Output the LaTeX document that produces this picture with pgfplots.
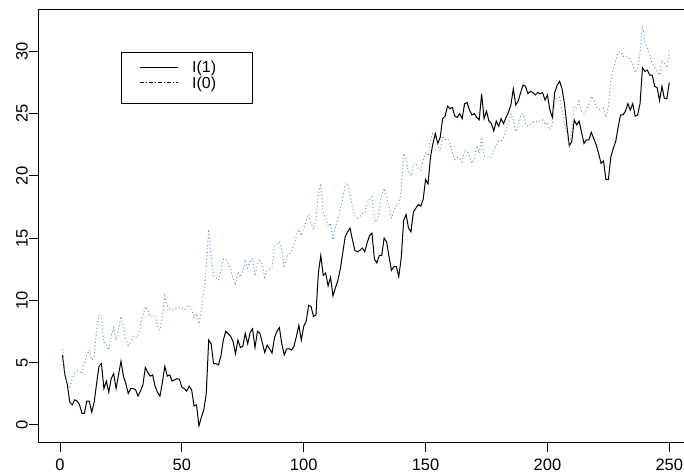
\documentclass[border=0pt]{standalone}
\usepackage{fontspec}
\setmainfont{Liberation Sans}
\usepackage{pgfplots}
\pgfplotsset{compat=1.18}
\usepackage{pgfplotstable}
\definecolor{dotblue}{RGB}{95,150,215}
\pgfplotstableread{
t i1 i0
1 5.6 6.1
2 4.0 4.1
3 3.2 3.4
4 1.8 2.9
5 1.6 3.7
6 2.0 4.1
7 1.9 4.3
8 1.6 4.3
9 0.9 4.1
10 0.9 4.9
11 1.9 5.6
12 1.9 6.0
13 1.0 5.2
14 1.8 5.5
15 3.3 7.6
16 4.7 8.8
17 4.9 8.5
18 2.9 6.6
19 3.5 6.5
20 2.6 6.0
21 3.7 7.2
22 4.1 7.8
23 2.9 6.8
24 4.0 7.6
25 5.1 8.7
26 3.9 7.9
27 3.3 6.8
28 2.5 6.4
29 2.9 6.6
30 2.9 7.1
31 2.8 7.0
32 2.3 7.1
33 2.7 8.0
34 3.2 8.8
35 4.6 9.5
36 4.2 9.2
37 3.9 8.7
38 4.0 8.7
39 3.1 8.7
40 2.6 7.9
41 2.3 7.6
42 3.4 8.6
43 4.7 10.35
44 3.9 9.6
45 4.0 9.3
46 3.5 9.2
47 3.6 9.3
48 3.7 9.35
49 3.65 9.4
50 3.0 9.3
51 2.9 9.2
52 2.7 9.5
53 3.1 9.6
54 2.8 9.35
55 1.5 8.55
56 1.6 8.95
57 -0.1 8.1
58 0.6 9.2
59 1.2 10.8
60 2.5 12.5
61 6.8 15.7
62 6.5 13.5
63 4.9 12.0
64 4.9 11.8
65 4.8 11.6
66 5.5 12.4
67 6.8 13.3
68 7.5 13.3
69 7.3 13.0
70 7.1 12.4
71 6.7 11.8
72 5.7 11.2
73 6.8 12.3
74 6.2 11.85
75 6.3 12.4
76 7.35 13.1
77 6.5 12.6
78 7.4 13.1
79 7.7 13.4
80 6.2 11.95
81 7.5 12.9
82 7.35 13.2
83 6.6 12.76
84 5.8 11.85
85 6.4 12.4
86 6.1 12.5
87 5.75 12.6
88 7.0 14.3
89 7.5 14.5
90 7.8 14.7
91 6.5 14.0
92 5.6 12.6
93 6.1 13.5
94 6.1 13.7
95 6.0 13.9
96 6.3 14.5
97 7.1 15.2
98 8.0 15.7
99 6.8 15.2
100 7.9 15.8
101 8.3 16.4
102 9.6 16.9
103 9.5 16.2
104 8.7 15.7
105 8.8 16.5
106 12.2 18.5
107 13.6 19.4
108 12.0 17.0
109 12.2 16.6
110 11.15 15.9
111 11.85 16.2
112 10.35 14.85
113 11.0 15.9
114 11.6 16.5
115 12.5 17.3
116 13.8 18.2
117 15.1 19.3
118 15.5 19.4
119 15.8 18.5
120 14.85 17.5
121 14.0 16.8
122 13.9 16.6
123 14.0 16.7
124 14.2 17.0
125 13.9 17.0
126 14.6 17.8
127 15.2 18.1
128 15.4 18.33
129 13.3 16.45
130 13.0 16.3
131 13.6 17.3
132 13.6 18.5
133 15.0 19.0
134 14.7 18.3
135 13.5 17.5
136 12.4 16.6
137 12.7 17.2
138 12.7 17.6
139 11.9 17.7
140 13.4 18.9
141 16.4 21.8
142 16.9 21.4
143 15.8 20.2
144 15.5 20.0
145 17.1 20.96
146 17.4 21.0
147 17.7 20.6
148 17.56 20.47
149 18.1 21.2
150 19.7 21.9
151 19.35 21.6
152 21.5 22.9
153 22.6 23.5
154 23.4 23.2
155 22.6 22.4
156 23.1 22.0
157 24.6 23.2
158 24.8 22.9
159 25.6 23.0
160 25.4 22.6
161 25.5 21.8
162 24.8 21.3
163 24.7 21.5
164 25.0 21.4
165 24.6 21.1
166 25.8 22.1
167 25.9 22.05
168 25.3 21.6
169 24.9 21.0
170 25.0 21.4
171 24.7 22.4
172 24.5 21.8
173 26.6 23.1
174 24.6 21.6
175 25.2 21.5
176 24.4 21.5
177 24.2 21.5
178 23.6 22.0
179 24.4 22.4
180 24.0 22.8
181 24.6 22.8
182 24.2 23.1
183 24.7 23.7
184 25.1 24.2
185 25.7 25.0
186 27.0 24.5
187 25.7 23.55
188 26.0 24.0
189 26.7 24.8
190 27.3 25.0
191 27.2 24.2
192 26.6 24.0
193 26.8 24.1
194 26.7 24.3
195 26.5 24.3
196 26.7 24.4
197 26.6 24.36
198 26.7 24.5
199 26.1 24.1
200 26.5 24.3
201 25.3 23.7
202 24.7 24.1
203 26.7 26.0
204 27.3 26.3
205 27.6 26.3
206 27.0 25.3
207 25.8 24.2
208 24.0 23.3
209 22.4 22.3
210 22.8 23.6
211 24.5 25.5
212 24.1 25.4
213 24.4 26.0
214 23.5 25.2
215 22.6 25.0
216 22.9 25.3
217 22.9 25.7
218 23.5 26.4
219 23.0 26.1
220 22.5 25.6
221 21.8 25.36
222 21.0 25.4
223 21.2 25.4
224 19.7 24.7
225 19.7 25.6
226 21.5 27.6
227 22.2 28.6
228 22.75 29.3
229 23.9 29.9
230 24.9 30.0
231 24.9 29.6
232 25.2 29.6
233 25.8 29.6
234 25.3 29.3
235 25.8 29.0
236 24.8 28.3
237 24.9 28.6
238 25.8 29.9
239 28.7 32.1
240 28.4 30.8
241 28.5 30.3
242 28.1 29.7
243 28.1 29.0
244 27.2 28.7
245 27.1 28.4
246 26.05 28.1
247 27.2 29.3
248 26.2 29.0
249 26.2 28.7
250 27.5 30.1
}\datatable
\begin{document}
\begin{tikzpicture}
\useasboundingbox (0bp,0bp) rectangle (684bp,-475bp);
\clip (0bp,0bp) rectangle (684bp,-475bp);
\begin{axis}[
  at={(38.2bp,-442.7bp)}, anchor=south west,
  x=2.437bp, y=12.44bp,
  xmin=-8.96, xmax=259.96, ymin=-1.45, ymax=33.39,
  axis line style={line width=0.8bp},
  xtick={0,50,...,250}, ytick={0,5,...,30},
  tick align=outside, xtick pos=bottom, ytick pos=left,
  major tick length=9bp,
  tick style={black, line width=0.8bp},
  /pgf/number format/assume math mode=true,
  tick label style={font=\fontsize{16.5bp}{19bp}\selectfont},
  yticklabel style={rotate=90, anchor=south, yshift=-2bp},
  xticklabel style={anchor=north, yshift=-4bp},
  legend cell align=left,
  legend style={at={(0.1259,0.9022)}, anchor=north west, draw=black,
    line width=0.8bp, fill=white, inner xsep=0pt, inner ysep=0pt,
    nodes={inner sep=0pt, text depth=0pt, font=\fontsize{16bp}{19bp}\selectfont},
    column sep=0pt, row sep=0pt},
]
\addplot[black, line width=1bp, forget plot] table[x=t,y=i1]{\datatable};
\addplot[dotblue, line width=1bp, dash pattern=on 1bp off 2.5bp, forget plot] table[x=t,y=i0]{\datatable};
\addlegendimage{legend image code/.code={\path[draw=none,fill=none] (-18.6bp,-7.8bp) rectangle (52.4bp,15bp); \draw[black,line width=0.8bp] (0bp,0bp) -- (38bp,0bp);}}
\addlegendentry{\makebox[60.6bp][l]{I(1)}}
\addlegendimage{legend image code/.code={\path[draw=none,fill=none] (-18.6bp,-20.4bp) rectangle (52.4bp,7.8bp); \draw[black,line width=0.8bp,dash pattern=on 4bp off 2bp on 1bp off 2bp] (0bp,0bp) -- (38bp,0bp);}}
\addlegendentry{\makebox[60.6bp][l]{I(0)}}
\end{axis}
\end{tikzpicture}
\end{document}
